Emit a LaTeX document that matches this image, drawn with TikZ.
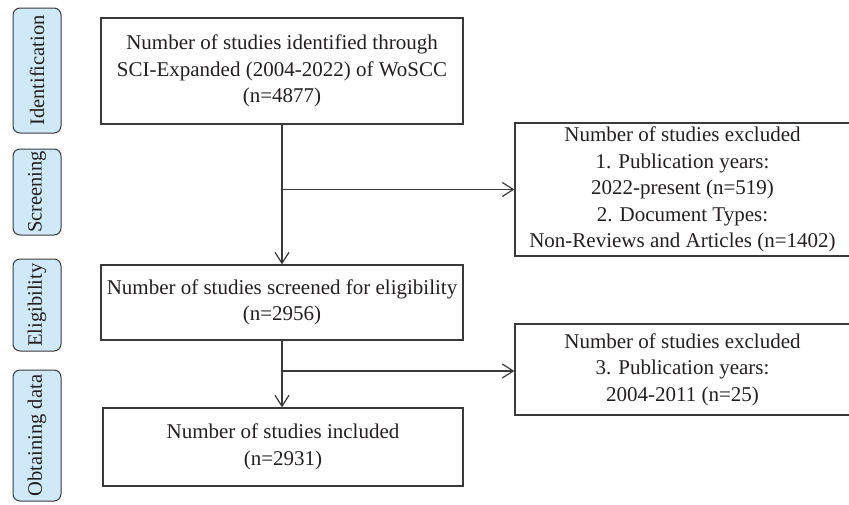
\documentclass[tikz,border=0pt]{standalone}
\usepackage{fontspec}
\setmainfont{Liberation Serif}
\usetikzlibrary{arrows.meta}
\definecolor{txt}{HTML}{231F20}
\definecolor{ln}{HTML}{3A3A3A}
\definecolor{lab}{HTML}{CFE9F9}
\begin{document}
\begin{tikzpicture}[x=1pt,y=-1pt,
  box/.style={draw=ln, line width=1.2pt, text=txt, align=center, inner sep=0pt,
    font=\fontsize{21}{26.5}\selectfont},
  stage/.style={draw=ln, fill=lab, rounded corners=7pt, line width=1pt, rotate=90,
    inner sep=0pt, text=txt, minimum height=48pt, font=\fontsize{20.5}{24}\selectfont},
  arr/.style={draw=ln, line width=1.2pt, -{Straight Barb[length=11pt,width=14pt,line width=1.2pt]}}]
\useasboundingbox (0,0) rectangle (849,504);

% stage labels
\node[stage, minimum width=125pt] (s1) at (37,70.5) {Identification};
\node[stage, minimum width=86pt] (s2) at (37,192) {Screening};
\node[stage, minimum width=92pt] (s3) at (37,305) {Eligibility};
\node[stage, minimum width=131pt] (s4) at (37,435.5) {Obtaining data};

% main boxes
\node[box, minimum width=362pt, minimum height=106pt] (b1) at (282,71)
  {Number of studies identified through\\SCI-Expanded (2004-2022) of WoSCC\\(n=4877)};
\node[box, minimum width=362pt, minimum height=75pt] (b2) at (282,302.5)
  {Number of studies screened for eligibility\\(n=2956)};
\node[box, minimum width=360pt, minimum height=78pt] (b4) at (283,447)
  {Number of studies included\\(n=2931)};

% exclusion boxes
\node[box, minimum width=335pt, minimum height=133pt] (r1) at (682.5,189.5)
  {Number of studies excluded\\1. Publication years:\\2022-present (n=519)\\2. Document Types:\\Non-Reviews and Articles (n=1402)};
\node[box, minimum width=335pt, minimum height=91pt] (r2) at (682.5,369.5)
  {Number of studies excluded\\3. Publication years:\\2004-2011 (n=25)};

% connectors
\coordinate (j1) at (282,189.5);
\coordinate (j2) at (282,371);
\draw[arr] (b1.south) -- (b2.north);
\draw[arr] (j1) -- (j1 -| r1.west);
\draw[arr] (b2.south) -- (b2.south |- b4.north);
\draw[arr] (j2) -- (j2 -| r2.west);
\end{tikzpicture}
\end{document}
